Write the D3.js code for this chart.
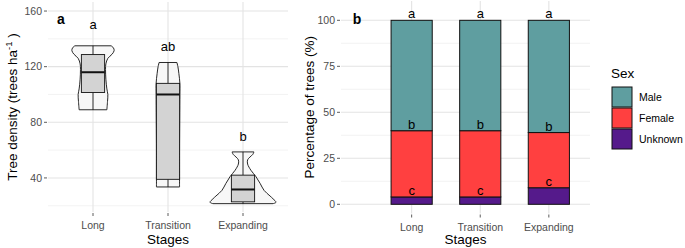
<!DOCTYPE html>
<html>
  <head>
  <title>Tree density and sex ratio</title>
  </head>
  <body>
  <style>
    body, html {
      margin: 0;
      padding: 0;
      background: #fff;
    }
    svg text {
      font-family: 'Liberation Sans', Arial, sans-serif;
    }
  </style>

  <svg id="svg" width="685" height="248"></svg>

  <script src="https://cdn.jsdelivr.net/npm/d3@7"></script>
  <script>
    // ---- data ----
    const stages = ['Long', 'Transition', 'Expanding']
    const densityTicks = [40, 80, 120, 160]
    const densityMinor = [20, 60, 100, 140]
    const pctTicks = [0, 25, 50, 75, 100]
    const pctMinor = [12.5, 37.5, 62.5, 87.5]

    // violin outlines: [tree density, relative half width]
    const violinLong = [[89, 0.42], [95, 0.44], [100, 0.45], [104, 0.42], [111, 0.39], [118, 0.38],
      [122, 0.39], [126, 0.45], [129, 0.58], [131.5, 0.64], [133.5, 0.62], [135, 0.55]]
    const violinTransition = [[33.5, 0.35], [60, 0.35], [100, 0.36], [108, 0.36], [115, 0.33],
      [120, 0.3], [123, 0.27]]
    const violinExpanding = [[21.5, 0.91], [22.5, 1.0], [25, 0.91], [27, 0.82], [31, 0.64], [36, 0.52],
      [41, 0.39], [45.5, 0.24], [50, 0.14], [53, 0.14], [55, 0.21], [57, 0.3], [58.7, 0.33]]
    const violins = [violinLong, violinTransition, violinExpanding]

    // box stats: min, q1, median, q3, max
    const boxStats = [
      [89, 101.4, 116, 128.7, 135],
      [33.5, 39, 100, 108, 123],
      [21.5, 22.8, 31.7, 42, 58.7]
    ]
    const densityLetters = ['a', 'ab', 'b']
    const densityLetterY = [150.4, 134.8, 69.5]

    // stacked percentages
    const sexes = ['Male', 'Female', 'Unknown']
    const malePct = [60, 60, 61]
    const femalePct = [36, 36, 30]
    const unknownPct = [4, 4, 9]
    const sexColors = ['#5F9EA0', '#FF4040', '#551A8B']
    const maleLetters = ['a', 'a', 'a']
    const femaleLetters = ['b', 'b', 'b']
    const unknownLetters = ['c', 'c', 'c']

    // ---- drawing ----
    const svg = d3.select('#svg')
    const gridMajor = '#E3E3E3'
    const gridMinor = '#F0F0F0'
    const tickCol = '#4D4D4D'

    function axisTexts(g, yScale, ticks, x0, fmt) {
      g.selectAll('.ytick').data(ticks).join('text')
        .attr('x', x0 - 6)
        .attr('y', d => yScale(d))
        .attr('dy', '0.35em')
        .attr('text-anchor', 'end')
        .attr('fill', tickCol)
        .style('font-size', '10.5px')
        .text(fmt)
      g.selectAll('.ytickm').data(ticks).join('line')
        .attr('x1', x0 - 4).attr('x2', x0 - 1)
        .attr('y1', d => yScale(d)).attr('y2', d => yScale(d))
        .attr('stroke', '#333').attr('stroke-width', 0.8)
    }

    function xAxis(g, xScale, top, bottom) {
      g.selectAll('.xt').data(stages).join('line')
        .attr('x1', (d, i) => xScale(i + 1)).attr('x2', (d, i) => xScale(i + 1))
        .attr('y1', bottom + 1).attr('y2', bottom + 4)
        .attr('stroke', '#333').attr('stroke-width', 0.8)
      g.selectAll('.xl').data(stages).join('text')
        .attr('x', (d, i) => xScale(i + 1))
        .attr('y', bottom + 17)
        .attr('text-anchor', 'middle')
        .attr('fill', tickCol)
        .style('font-size', '10.5px')
        .text(d => d)
    }

    function grid(g, xScale, yScale, major, minor, left, right, top, bottom) {
      g.selectAll('.gmin').data(minor).join('line')
        .attr('x1', left).attr('x2', right)
        .attr('y1', d => yScale(d)).attr('y2', d => yScale(d))
        .attr('stroke', gridMinor).attr('stroke-width', 0.8)
      g.selectAll('.gmaj').data(major).join('line')
        .attr('x1', left).attr('x2', right)
        .attr('y1', d => yScale(d)).attr('y2', d => yScale(d))
        .attr('stroke', gridMajor).attr('stroke-width', 1.1)
      g.selectAll('.gv').data(stages).join('line')
        .attr('x1', (d, i) => xScale(i + 1)).attr('x2', (d, i) => xScale(i + 1))
        .attr('y1', top).attr('y2', bottom)
        .attr('stroke', gridMajor).attr('stroke-width', 1.1)
    }

    // panel a
    const aLeft = 48, aRight = 288, aTop = 2, aBottom = 212
    const xA = d3.scaleLinear().domain([0.4, 3.6]).range([aLeft, aRight])
    const yA = d3.scaleLinear().domain([15.5, 166.5]).range([aBottom, aTop])
    const wA = d3.scaleLinear().domain([0, 1]).range([0, 0.44])

    const ga = svg.append('g')
    grid(ga, xA, yA, densityTicks, densityMinor, aLeft, aRight, aTop, aBottom)
    axisTexts(ga, yA, densityTicks, aLeft, d => d)
    xAxis(ga, xA, aTop, aBottom)

    violins.forEach((v, i) => {
      const c = i + 1
      const area = d3.area()
        .y(d => yA(d[0]))
        .x0(d => xA(c - wA(d[1])))
        .x1(d => xA(c + wA(d[1])))
        .curve(d3.curveCatmullRom)
      ga.append('path')
        .attr('d', area(v))
        .attr('fill', '#F7F7F7')
        .attr('stroke', '#111')
        .attr('stroke-width', 0.9)

      const s = boxStats[i]
      const bx0 = xA(c - 0.155), bx1 = xA(c + 0.155)
      ga.append('line')
        .attr('x1', xA(c)).attr('x2', xA(c))
        .attr('y1', yA(s[4])).attr('y2', yA(s[3]))
        .attr('stroke', '#111').attr('stroke-width', 0.9)
      ga.append('line')
        .attr('x1', xA(c)).attr('x2', xA(c))
        .attr('y1', yA(s[1])).attr('y2', yA(s[0]))
        .attr('stroke', '#111').attr('stroke-width', 0.9)
      ga.append('rect')
        .attr('x', bx0).attr('width', bx1 - bx0)
        .attr('y', yA(s[3])).attr('height', yA(s[1]) - yA(s[3]))
        .attr('fill', '#D3D3D3')
        .attr('stroke', '#111').attr('stroke-width', 0.9)
      ga.append('line')
        .attr('x1', bx0).attr('x2', bx1)
        .attr('y1', yA(s[2])).attr('y2', yA(s[2]))
        .attr('stroke', '#111').attr('stroke-width', 2)

      ga.append('text')
        .attr('x', xA(c)).attr('y', yA(densityLetterY[i]))
        .attr('dy', '0.35em')
        .attr('text-anchor', 'middle')
        .style('font-size', '13px')
        .text(densityLetters[i])
    })

    ga.append('text')
      .attr('x', 61).attr('y', 24)
      .attr('text-anchor', 'middle')
      .style('font-size', '14px').style('font-weight', 'bold')
      .text('a')

    ga.append('text')
      .attr('x', (aLeft + aRight) / 2).attr('y', 244)
      .attr('text-anchor', 'middle')
      .style('font-size', '13.5px')
      .text('Stages')

    const yTitleA = ga.append('text')
      .attr('transform', `translate(17, ${(aTop + aBottom) / 2}) rotate(-90)`)
      .attr('text-anchor', 'middle')
      .style('font-size', '13.5px')
    yTitleA.append('tspan').text('Tree density (trees ha')
    yTitleA.append('tspan').attr('dy', -5).style('font-size', '9.5px').text('-1')
    yTitleA.append('tspan').attr('dy', 5).text(' )')

    // panel b
    const bLeft = 341, bRight = 590, bTop = 1, bBottom = 213.5
    const xB = d3.scaleLinear().domain([-0.03, 3.6]).range([bLeft, bRight])
    const yB = d3.scaleLinear().domain([-5, 110.5]).range([bBottom, bTop])

    const gb = svg.append('g')
    grid(gb, xB, yB, pctTicks, pctMinor, bLeft, bRight, bTop, bBottom)
    axisTexts(gb, yB, pctTicks, bLeft, d => d)
    xAxis(gb, xB, bTop, bBottom)

    const table = stages.map((s, i) => ({
      stage: s, Male: malePct[i], Female: femalePct[i], Unknown: unknownPct[i]
    }))
    const stack = d3.stack().keys(['Unknown', 'Female', 'Male'])
    const series = stack(table)
    const colorOf = d3.scaleOrdinal().domain(sexes).range(sexColors)
    const lettersOf = { Male: maleLetters, Female: femaleLetters, Unknown: unknownLetters }

    const bars = gb.append('g')
    const letters = gb.append('g')
    series.forEach(ser => {
      const key = ser.key
      bars.selectAll(null).data(ser).join('rect')
        .attr('x', (d, i) => xB(i + 1 - 0.3))
        .attr('width', (d, i) => xB(i + 1 + 0.3) - xB(i + 1 - 0.3))
        .attr('y', d => yB(d[1]))
        .attr('height', d => yB(d[0]) - yB(d[1]))
        .attr('fill', colorOf(key))
        .attr('stroke', '#111')
        .attr('stroke-width', 1)
      letters.selectAll(null).data(ser).join('text')
        .attr('x', (d, i) => xB(i + 1))
        .attr('y', d => yB(d[1]) - 2)
        .attr('text-anchor', 'middle')
        .style('font-size', '13px')
        .text((d, i) => lettersOf[key][i])
    })

    gb.append('text')
      .attr('x', 357).attr('y', 24)
      .attr('text-anchor', 'middle')
      .style('font-size', '14px').style('font-weight', 'bold')
      .text('b')

    gb.append('text')
      .attr('x', (bLeft + bRight) / 2).attr('y', 244)
      .attr('text-anchor', 'middle')
      .style('font-size', '13.5px')
      .text('Stages')

    gb.append('text')
      .attr('transform', `translate(314, ${(bTop + bBottom) / 2}) rotate(-90)`)
      .attr('text-anchor', 'middle')
      .style('font-size', '13.5px')
      .text('Percentage of trees (%)')

    // legend
    const legend = svg.append('g').attr('transform', 'translate(611, 0)')
    legend.append('text')
      .attr('x', 0).attr('y', 78)
      .style('font-size', '13.5px')
      .text('Sex')
    legend.selectAll('rect').data(sexes).join('rect')
      .attr('x', 1).attr('y', (d, i) => 87 + i * 21)
      .attr('width', 20).attr('height', 20)
      .attr('fill', d => colorOf(d))
      .attr('stroke', '#111').attr('stroke-width', 1)
    legend.selectAll('.lab').data(sexes).join('text')
      .attr('x', 28).attr('y', (d, i) => 97 + i * 21)
      .attr('dy', '0.35em')
      .style('font-size', '10.5px')
      .text(d => d)
  </script>
  </body>
</html>
